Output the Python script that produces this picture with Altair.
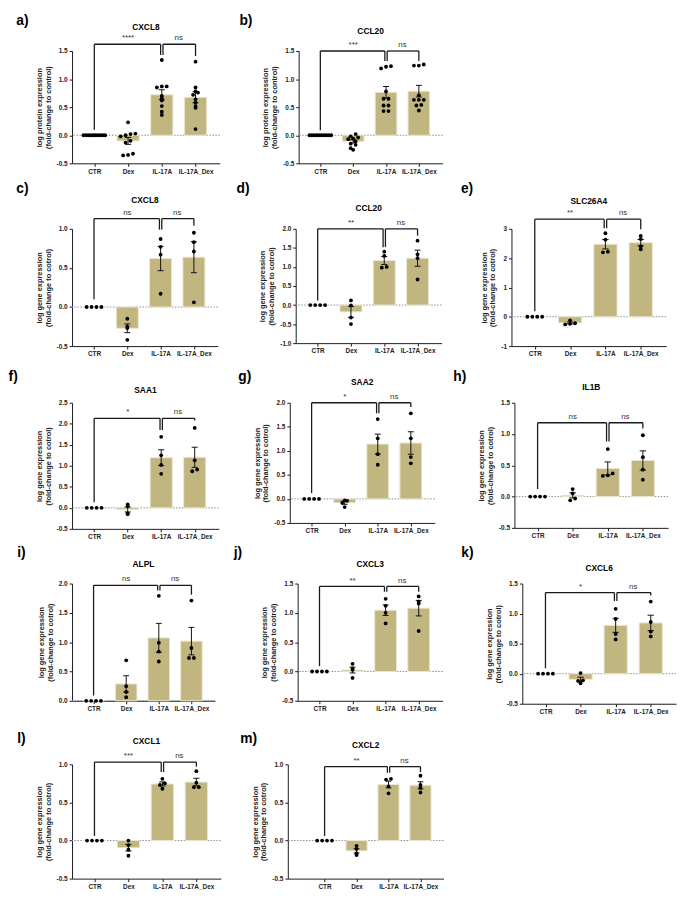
import altair as alt
import numpy as np
import pandas as pd

FONT = "Liberation Sans, Arial, sans-serif"
BAR = "#c2b680"
BAR_EDGE = "#ece7d0"

groups = ["CTR", "Dex", "IL-17A", "IL-17A_Dex"]
letters = ["a)", "b)", "c)", "d)", "e)", "f)", "g)", "h)", "i)", "j)", "k)", "l)", "m)"]
genes = ["CXCL8", "CCL20", "CXCL8", "CCL20", "SLC26A4", "SAA1", "SAA2", "IL1B",
         "ALPL", "CXCL3", "CXCL6", "CXCL1", "CXCL2"]
ylab_protein = ["log protein expression", "(fold-change to control)"]
ylab_gene = ["log gene expression", "(fold-change to cotrol)"]
is_protein = [True, True, False, False, False, False, False, False, False, False, False, False, False]

# ---- point values: [CTR, Dex, IL-17A, IL-17A_Dex] ----
a_vals = [[0, 0, 0, 0, 0, 0, 0, 0, 0, 0],
          [0.23, 0.03, 0.02, 0.0, -0.02, -0.10, -0.13, -0.33, -0.35, -0.36],
          [1.34, 0.87, 0.87, 0.85, 0.70, 0.66, 0.62, 0.52, 0.42, 0.36],
          [1.31, 0.85, 0.78, 0.76, 0.72, 0.64, 0.58, 0.52, 0.49, 0.11]]
b_vals = [[0, 0, 0, 0, 0, 0, 0, 0, 0, 0],
          [0.02, -0.02, -0.04, -0.06, -0.07, -0.11, -0.15, -0.17, -0.23, -0.26],
          [1.23, 1.22, 1.19, 0.78, 0.65, 0.65, 0.53, 0.53, 0.43, 0.43],
          [1.26, 1.24, 1.24, 0.71, 0.63, 0.63, 0.63, 0.54, 0.53, 0.44]]
c_vals = [[0, 0, 0, 0], [-0.15, -0.25, -0.27, -0.42], [0.87, 0.77, 0.67, 0.17], [0.95, 0.83, 0.71, 0.06]]
d_vals = [[0, 0, 0, 0], [0.12, -0.01, -0.33, -0.50], [1.40, 1.29, 1.00, 0.98], [1.69, 1.33, 1.23, 0.67]]
e_vals = [[0, 0, 0, 0], [-0.12, -0.22, -0.24, -0.26], [2.85, 2.63, 2.22, 2.20], [2.76, 2.65, 2.40, 2.30]]
f_vals = [[0, 0, 0, 0], [0.08, 0.04, -0.13, -0.15], [1.69, 1.25, 1.02, 0.81], [1.90, 1.13, 0.91, 0.87]]
g_vals = [[0, 0, 0, 0], [-0.03, -0.04, -0.08, -0.17], [1.66, 1.26, 0.93, 0.71], [1.78, 1.26, 0.87, 0.74]]
h_vals = [[0, 0, 0, 0], [0.12, 0.05, -0.03, -0.06], [0.76, 0.37, 0.34, 0.33], [0.98, 0.63, 0.43, 0.27]]
i_vals = [[0, 0, 0, 0], [0.69, 0.25, 0.15, 0.06], [1.79, 0.99, 0.84, 0.67], [1.71, 0.90, 0.73, 0.73]]
j_vals = [[0, 0, 0, 0], [0.13, 0.05, 0.03, -0.11], [1.24, 1.12, 1.00, 0.82], [1.28, 1.19, 1.16, 0.69]]
k_vals = [[0, 0, 0, 0], [0.01, -0.11, -0.12, -0.16], [1.08, 0.91, 0.66, 0.57], [1.20, 0.86, 0.70, 0.62]]
l_vals = [[0, 0, 0, 0], [0.0, -0.06, -0.12, -0.20], [0.81, 0.75, 0.73, 0.68], [0.91, 0.76, 0.70, 0.70]]
m_vals = [[0, 0, 0, 0], [-0.07, -0.11, -0.17, -0.19], [0.81, 0.80, 0.71, 0.62], [0.85, 0.73, 0.69, 0.63]]
all_vals = [a_vals, b_vals, c_vals, d_vals, e_vals, f_vals, g_vals, h_vals,
            i_vals, j_vals, k_vals, l_vals, m_vals]

# ---- significance brackets ----
sig_left = ["****", "***", "ns", "**", "**", "*", "*", "ns", "ns", "**", "*", "***", "**"]
sig_right = ["ns", "ns", "ns", "ns", "ns", "ns", "ns", "ns", "ns", "ns", "ns", "ns", "ns"]
bracket_top = [1.62, 1.50, 1.13, 2.00, 3.33, 2.13, 2.00, 1.18, 1.97, 1.45, 1.35, 1.03, 0.97]
leg_ctr = [0.10, 0.09, 0.10, 0.12, 0.19, 0.13, 0.12, 0.12, 0.09, 0.09, 0.09, 0.06, 0.06]
leg_il = [1.43, 1.32, 0.99, 1.52, 3.02, 1.85, 1.78, 0.88, 1.88, 1.36, 1.21, 0.90, 0.89]
leg_ild = [1.41, 1.32, 1.04, 1.82, 2.99, 2.08, 1.91, 1.09, 1.81, 1.36, 1.30, 0.97, 0.90]

# ---- y axes ----
y_min = [-0.5, -0.5, -0.5, -1.0, -1, -0.5, -0.5, -0.5, 0.0, -0.5, -0.5, -0.5, -0.5]
y_max = [1.5, 1.5, 1.0, 2.0, 3, 2.5, 2.0, 1.5, 2.0, 1.5, 1.5, 1.0, 1.0]
y_step = [0.5, 0.5, 0.5, 0.5, 1, 0.5, 0.5, 0.5, 0.5, 0.5, 0.5, 0.5, 0.5]

# ---- layout (px) ----
W = [150, 146, 148, 148, 157, 149, 147, 156, 145, 147, 156, 151, 158]
H = [114, 114, 119, 116, 119, 128, 122, 127, 119, 119, 122, 116, 116]
LX = [56.6, 60.1, 56.6, 60.0, 51.3, 64.4, 52.3, 62.0, 55.6, 64.9, 62.0, 55.6, 48.4]
ROW_DY = [37, 47, 33, 38, 33]
ROW_OF = [0, 0, 1, 1, 1, 2, 2, 2, 3, 3, 3, 4, 4]
TOFF = [24, 20, 29, 21, 28, 13, 21, 16, 20, 20, 16, 24, 20]
XDOM = [[-0.66, 3.72]] * 12 + [[-1.15, 3.72]]

label_expr = "[" + ",".join("'%s'" % g for g in groups) + "][datum.value]"


def spread(vals, ppu_y, ppu_x, row_px=3.8):
    """Scatter-dot layout: dots falling in the same row band are set side by side."""
    offs = [0.0] * len(vals)
    bands = {}
    for k, v in enumerate(vals):
        bands.setdefault(int(np.floor(v * ppu_y / row_px + 0.5)), []).append(k)
    for members in bands.values():
        n = len(members)
        if n == 1:
            continue
        sp = min(5.0, 22.0 / (n - 1))
        members = sorted(members, key=lambda k: vals[k])
        for j, k in enumerate(members):
            offs[k] = (j - (n - 1) / 2) * sp / ppu_x
    return offs


def panel(i):
    w, h = W[i], H[i]
    dy_letter = ROW_DY[ROW_OF[i]]
    x0, x1 = XDOM[i]
    y0, y1, st = y_min[i], y_max[i], y_step[i]
    ppu_x = w / (x1 - x0)
    ppu_y = h / (y1 - y0)
    xscale = alt.Scale(domain=[x0, x1], nice=False, zero=False)
    yscale = alt.Scale(domain=[y0, y1], nice=False, zero=False)
    xaxis = alt.Axis(values=[0, 1, 2, 3], labelExpr=label_expr, title=None,
                     labelOverlap=False, labelFlush=False)
    ticks = [round(float(t), 2) for t in np.arange(y0, y1 + 1e-9, st)]
    fmt = "d" if st >= 1 else ".1f"
    yaxis = alt.Axis(values=ticks, format=fmt,
                     labelExpr="replace(datum.label, '\u2212', '-')",
                     title=ylab_protein if is_protein[i] else ylab_gene)

    def X(f):
        return alt.X(f, type="quantitative", scale=xscale, axis=xaxis)

    def Y(f):
        return alt.Y(f, type="quantitative", scale=yscale, axis=yaxis)

    vals = all_vals[i]
    pts, summ, caps = [], [], []
    for gi, v in enumerate(vals):
        v = [float(t) for t in v]
        offs = spread(v, ppu_y, ppu_x)
        for vv, o in zip(v, offs):
            pts.append({"px": gi + o, "v": vv})
        m = float(np.mean(v))
        se = float(np.std(v, ddof=1) / np.sqrt(len(v)))
        summ.append({"pos": gi, "xl": gi - 0.33, "xr": gi + 0.33, "mean": m, "base": 0.0,
                     "lo": m - se, "hi": m + se})
        if se > 1e-9:
            for yy in (m - se, m + se):
                caps.append({"cl": gi - 0.09, "cr": gi + 0.09, "cy": yy})
    pts = pd.DataFrame(pts)
    summ = pd.DataFrame(summ)
    caps = pd.DataFrame(caps)

    d = 0.035
    top = bracket_top[i]
    br = pd.DataFrame([
        {"bx": 0, "bx2": 2 - d, "by": top, "by2": top},
        {"bx": 2 + d, "bx2": 3, "by": top, "by2": top},
        {"bx": 0, "bx2": 0, "by": leg_ctr[i], "by2": top},
        {"bx": 2 - d, "bx2": 2 - d, "by": leg_il[i], "by2": top},
        {"bx": 2 + d, "bx2": 2 + d, "by": leg_il[i], "by2": top},
        {"bx": 3, "bx2": 3, "by": leg_ild[i], "by2": top},
    ])
    sig = pd.DataFrame([{"sx": 1.0, "sy": top, "s": sig_left[i]},
                        {"sx": 2.5, "sy": top, "s": sig_right[i]}])

    zero = alt.Chart(pd.DataFrame({"z": [0.0]})).mark_rule(
        color="#8c8c8c", strokeDash=[1.5, 1.5], strokeWidth=1).encode(y=Y("z"))
    bars = alt.Chart(summ).mark_bar(color=BAR, stroke=BAR_EDGE, strokeWidth=1).encode(
        x=X("xl"), x2="xr", y=Y("mean"), y2="base")
    err = alt.Chart(summ).mark_rule(color="#111", strokeWidth=1).encode(
        x=X("pos"), y=Y("lo"), y2="hi")
    cap = alt.Chart(caps).mark_rule(color="#111", strokeWidth=1).encode(
        x=X("cl"), x2="cr", y=Y("cy"))
    dots = alt.Chart(pts).mark_circle(size=15, color="black", opacity=1).encode(
        x=X("px"), y=Y("v"))
    brk = alt.Chart(br).mark_rule(color="#1a1a1a", strokeWidth=1.3).encode(
        x=X("bx"), x2="bx2", y=Y("by"), y2="by2")
    sigt = alt.Chart(sig).mark_text(fontSize=8, baseline="bottom", dy=-2, color="#333",
                                    font=FONT).encode(x=X("sx"), y=Y("sy"), text="s:N")
    letter = alt.Chart(pd.DataFrame({"t": [letters[i]]})).mark_text(
        align="left", baseline="top", fontSize=14, fontWeight="bold", font=FONT,
        color="black").encode(x=alt.value(-LX[i]), y=alt.value(-dy_letter), text="t:N")
    title = alt.Chart(pd.DataFrame({"t": [genes[i]]})).mark_text(
        align="center", baseline="middle", fontSize=8.5, fontWeight="bold", font=FONT,
        color="black").encode(x=alt.value(w / 2), y=alt.value(-TOFF[i]), text="t:N")

    return alt.layer(zero, bars, err, cap, dots, brk, sigt, letter, title).properties(
        width=w, height=h)


P = [panel(i) for i in range(13)]
row1 = alt.hconcat(P[0], P[1], spacing=18)
row2 = alt.hconcat(P[2], P[3], P[4], spacing=18)
row3 = alt.hconcat(P[5], P[6], P[7], spacing=18)
row4 = alt.hconcat(P[8], P[9], P[10], spacing=18)
row5 = alt.hconcat(P[11], P[12], spacing=18)

block45 = alt.vconcat(row4, row5, spacing=16.5)
block345 = alt.vconcat(row3, block45, spacing=5.5)
block2345 = alt.vconcat(row2, block345, spacing=12.5)
chart = alt.vconcat(row1, block2345, spacing=7.5).properties(
    padding=0, background="white").configure_view(stroke=None).configure_axis(
    grid=False, domainColor="#1a1a1a", tickColor="#1a1a1a", domainWidth=1, tickWidth=1,
    tickSize=3, labelPadding=2, labelFont=FONT, titleFont=FONT, labelFontSize=6.5,
    labelFontWeight="bold", labelColor="#222", titleFontSize=7.5, titleFontWeight="bold",
    titleColor="#222", titlePadding=4, titleLineHeight=9)

chart.save("out.html", embed_options={"renderer": "svg", "actions": False})
